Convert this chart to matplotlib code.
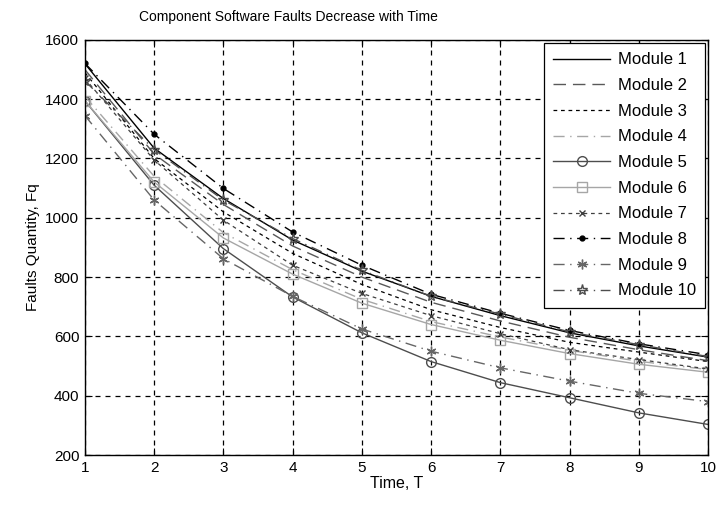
import numpy as np
import matplotlib
matplotlib.use("Agg")
import matplotlib.pyplot as plt

plt.rcParams['font.family'] = ['Liberation Sans', 'DejaVu Sans']

T = [1, 2, 3, 4, 5, 6, 7, 8, 9, 10]

m1 = [1520, 1235, 1065, 925, 820, 735, 670, 612, 568, 530]
m2 = [1500, 1215, 1045, 905, 800, 715, 652, 597, 555, 518]
m3 = [1490, 1200, 1020, 880, 775, 690, 630, 580, 547, 515]
m4 = [1410, 1140, 950, 825, 725, 650, 598, 553, 516, 488]
m5 = [1395, 1110, 896, 733, 612, 515, 444, 393, 342, 303]
m6 = [1395, 1121, 932, 810, 712, 640, 587, 542, 506, 479]
m7 = [1470, 1195, 992, 840, 745, 670, 609, 555, 522, 490]
m8 = [1521, 1282, 1099, 952, 840, 742, 678, 620, 575, 538]
m9 = [1345, 1060, 862, 735, 625, 550, 494, 449, 408, 380]
m10 = [1462, 1230, 1060, 930, 823, 735, 675, 615, 572, 532]

labels = ["Module %d" % i for i in range(1, 11)]

fig = plt.figure(figsize=(7.19, 5.05), dpi=100)
ax = fig.add_axes([0.118, 0.099, 0.867, 0.822])

ax.plot(T, m1, color='black', ls='-', lw=1.0, label=labels[0])
ax.plot(T, m2, color='0.35', ls=(0, (9, 5)), lw=1.0, label=labels[1])
ax.plot(T, m3, color='black', ls=(0, (3, 3)), lw=0.9, label=labels[2])
ax.plot(T, m4, color='0.65', ls=(0, (8, 4, 1, 4)), lw=1.0, label=labels[3])
ax.plot(T, m5, color='0.3', ls='-', lw=1.0, marker='o', ms=7, mfc='none', label=labels[4])
ax.plot(T, m6, color='0.65', ls='-', lw=1.0, marker='s', ms=7, mfc='none', label=labels[5])
ax.plot(T, m7, color='0.25', ls=(0, (3, 3)), lw=0.9, marker='x', ms=5, label=labels[6])
ax.plot(T, m8, color='black', ls=(0, (8, 4, 1, 4)), lw=1.0, marker='.', ms=7, label=labels[7])
ax.plot(T, m9, color='0.4', ls=(0, (8, 4, 1, 4)), lw=1.0, marker=(6, 2, 0), ms=7, label=labels[8])
ax.plot(T, m10, color='0.3', ls=(0, (8, 4, 1, 4)), lw=1.0, marker='*', ms=8, mfc='none', label=labels[9])

ax.set_xlim(1, 10)
ax.set_ylim(200, 1600)
ax.set_xticks(range(1, 11))
ax.set_yticks(range(200, 1601, 200))
ax.grid(True, color='black', ls=(0, (4, 4)), lw=0.9)
ax.tick_params(direction='in', length=5, labelsize=11, top=True, right=True, pad=4)
for s in ax.spines.values():
    s.set_linewidth(1.0)

fig.text(288 / 719, 1 - 17 / 505, "Component Software Faults Decrease with Time",
         fontsize=10, ha='center', va='center')
ax.set_xlabel("Time, T", fontsize=11.5, labelpad=1)
ax.set_ylabel("Faults Quantity, Fq", fontsize=11, labelpad=4)

leg = ax.legend(loc='upper right', fontsize=12, handlelength=3.4, labelspacing=0.64,
                handletextpad=0.45, borderpad=0.55,
                fancybox=False, framealpha=1, edgecolor='black', borderaxespad=0.2)
leg.get_frame().set_linewidth(0.9)

fig.savefig("out.png", dpi=100)
